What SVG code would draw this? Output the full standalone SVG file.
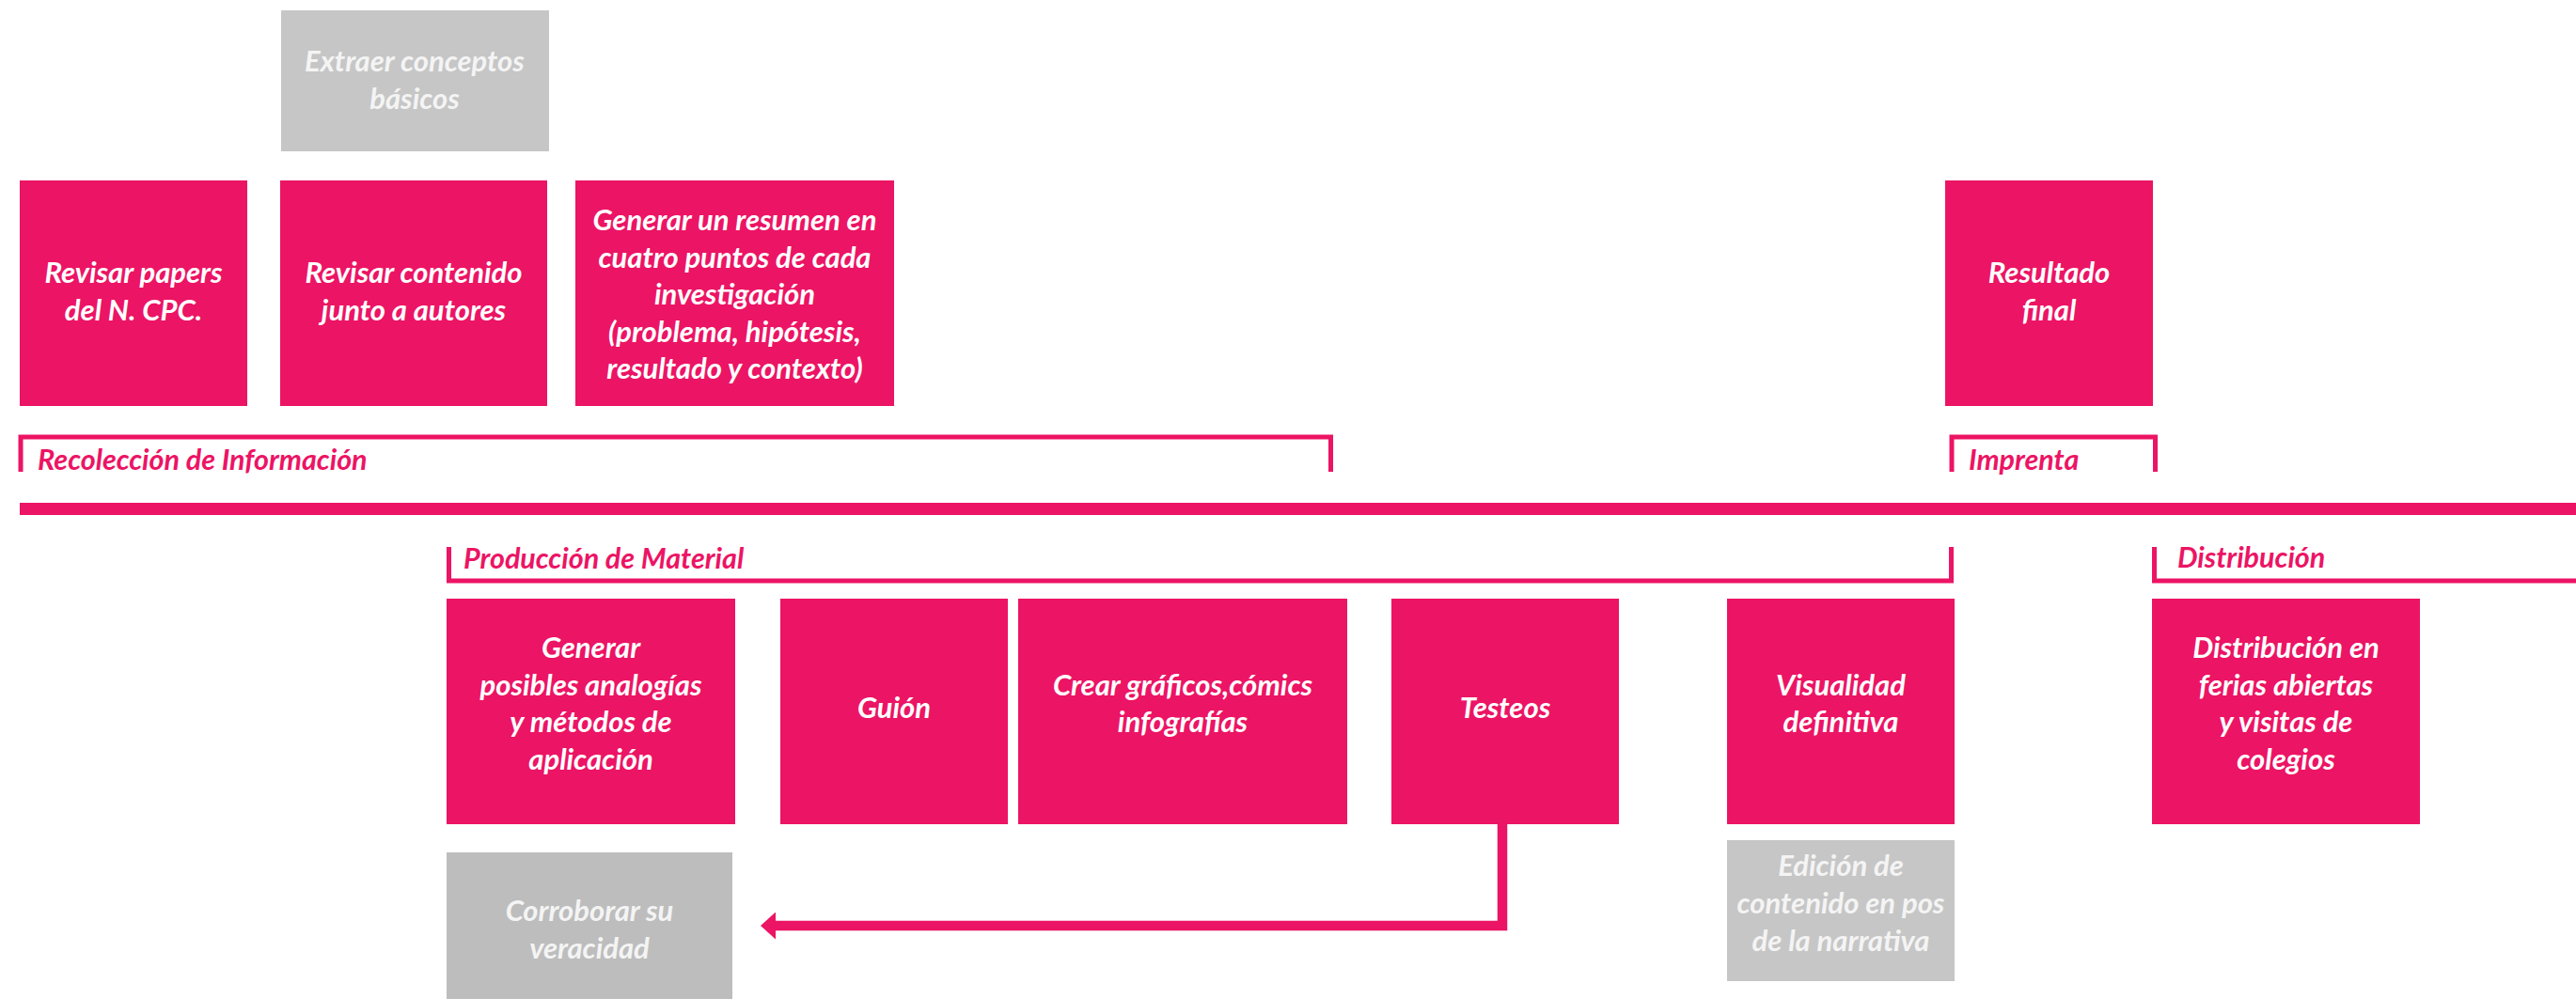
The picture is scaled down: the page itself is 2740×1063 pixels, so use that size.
<svg xmlns="http://www.w3.org/2000/svg" width="2740" height="1063" viewBox="0 0 2740 1063">
<style>
.box{fill:#EC1464}
.gbox{fill:#C6C6C6}
.gbox2{fill:#BDBDBD}
.t{font-family:Lato,"Open Sans","Liberation Sans",sans-serif;font-style:italic;font-weight:700;font-size:31px;fill:#FFFFFF;text-anchor:middle}
.gt{fill:#F4F4F4}
.lbl{font-family:Lato,"Open Sans","Liberation Sans",sans-serif;font-style:italic;font-weight:700;font-size:30.5px;fill:#EC1464}
.br{fill:none;stroke:#EC1464;stroke-width:5;stroke-linejoin:miter}
.conn{fill:none;stroke:#EC1464;stroke-width:10.5;stroke-linejoin:miter}
</style>
<defs>
<marker id="ah" markerUnits="userSpaceOnUse" markerWidth="16" markerHeight="29" viewBox="0 0 16 29" refX="0" refY="14.5" orient="auto">
<path d="M0,0 L16,14.5 L0,29 Z" fill="#EC1464"/>
</marker>
</defs>
<rect width="2740" height="1063" fill="#FFFFFF"/>

<g id="timeline">
<rect x="21" y="535" width="2719" height="13" fill="#EC1464"/>
</g>

<g id="phase-recoleccion">
<path class="br" d="M22,502 V465 H1415.5 V502"/>
<text class="lbl" x="40" y="500">Recolección de Información</text>
</g>
<g id="phase-imprenta">
<path class="br" d="M2076,502 V465 H2292.5 V502"/>
<text class="lbl" x="2094" y="500">Imprenta</text>
</g>
<g id="phase-produccion">
<path class="br" d="M477.5,582 V618 H2075.5 V582"/>
<text class="lbl" x="493" y="605">Producción de Material</text>
</g>
<g id="phase-distribucion">
<path class="br" d="M2291.5,582 V618 H2745"/>
<text class="lbl" x="2316" y="604">Distribución</text>
</g>

<g id="n-extraer">
<rect class="gbox" x="299" y="11" width="285" height="150"/>
<text class="t gt" x="441" y="76">Extraer conceptos</text>
<text class="t gt" x="441" y="116">básicos</text>
</g>
<g id="n-revisar-papers">
<rect class="box" x="21" y="192" width="242" height="240"/>
<text class="t" x="142" y="301">Revisar papers</text>
<text class="t" x="142" y="341">del N. CPC.</text>
</g>
<g id="n-revisar-contenido">
<rect class="box" x="298" y="192" width="284" height="240"/>
<text class="t" x="440" y="301">Revisar contenido</text>
<text class="t" x="440" y="341">junto a autores</text>
</g>
<g id="n-generar-resumen">
<rect class="box" x="612" y="192" width="339" height="240"/>
<text class="t" x="781.5" y="245">Generar un resumen en</text>
<text class="t" x="781.5" y="285">cuatro puntos de cada</text>
<text class="t" x="781.5" y="324">investigación</text>
<text class="t" x="781.5" y="364">(problema, hipótesis,</text>
<text class="t" x="781.5" y="403">resultado y contexto)</text>
</g>
<g id="n-resultado">
<rect class="box" x="2069" y="192" width="221" height="240"/>
<text class="t" x="2179.5" y="301">Resultado</text>
<text class="t" x="2179.5" y="341">final</text>
</g>

<g id="n-generar-analogias">
<rect class="box" x="475" y="637" width="307" height="240"/>
<text class="t" x="628.5" y="700">Generar</text>
<text class="t" x="628.5" y="740">posibles analogías</text>
<text class="t" x="628.5" y="779">y métodos de</text>
<text class="t" x="628.5" y="819">aplicación</text>
</g>
<g id="n-guion">
<rect class="box" x="830" y="637" width="242" height="240"/>
<text class="t" x="951" y="764">Guión</text>
</g>
<g id="n-crear">
<rect class="box" x="1083" y="637" width="350" height="240"/>
<text class="t" x="1258" y="740">Crear gráficos,cómics</text>
<text class="t" x="1258" y="779">infografías</text>
</g>
<g id="n-testeos">
<rect class="box" x="1480" y="637" width="242" height="240"/>
<text class="t" x="1601" y="764">Testeos</text>
</g>
<g id="n-visualidad">
<rect class="box" x="1837" y="637" width="242" height="240"/>
<text class="t" x="1958" y="740">Visualidad</text>
<text class="t" x="1958" y="779">definitiva</text>
</g>
<g id="n-distribucion">
<rect class="box" x="2289" y="637" width="285" height="240"/>
<text class="t" x="2431.5" y="700">Distribución en</text>
<text class="t" x="2431.5" y="740">ferias abiertas</text>
<text class="t" x="2431.5" y="779">y visitas de</text>
<text class="t" x="2431.5" y="819">colegios</text>
</g>
<g id="n-corroborar">
<rect class="gbox2" x="475" y="907" width="304" height="160"/>
<text class="t gt" x="627" y="980">Corroborar su</text>
<text class="t gt" x="627" y="1020">veracidad</text>
</g>
<g id="n-edicion">
<rect class="gbox" x="1837" y="894" width="242" height="150"/>
<text class="t gt" x="1958" y="932">Edición de</text>
<text class="t gt" x="1958" y="972">contenido en pos</text>
<text class="t gt" x="1958" y="1012">de la narrativa</text>
</g>

<g id="connectors">
<path class="conn" d="M1598,877 V985 H825" marker-end="url(#ah)"/>
</g>
</svg>
